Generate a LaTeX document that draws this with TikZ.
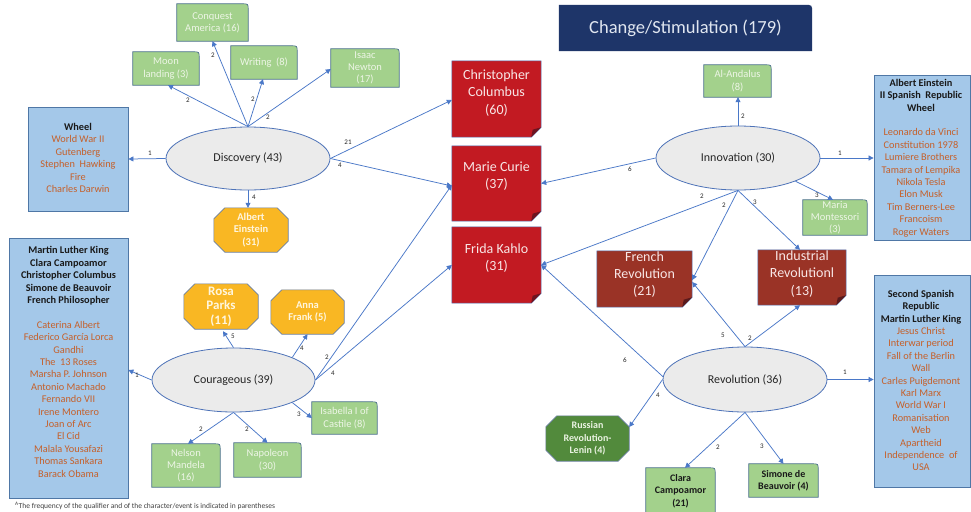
\documentclass[tikz,border=0pt]{standalone}
\usepackage{fontspec}
\setmainfont{Carlito}
\usetikzlibrary{arrows.meta,backgrounds,shapes.geometric}
\pgfdeclarelayer{canvas}
\pgfsetlayers{canvas,background,main}

\definecolor{edgecol}{HTML}{4A78C8}
\definecolor{ellfill}{HTML}{EBEBEB}
\definecolor{ellline}{HTML}{4E73B8}
\definecolor{gfill}{HTML}{A3D18C}
\definecolor{gline}{HTML}{4A6F8A}
\definecolor{gtextcol}{HTML}{EDF5E6}
\definecolor{bfill}{HTML}{A4C8E9}
\definecolor{bline}{HTML}{4F77A6}
\definecolor{orangetext}{HTML}{C5602A}
\definecolor{notered}{HTML}{C21A22}
\definecolor{notefold}{HTML}{6E1420}
\definecolor{notetextcol}{HTML}{F8E6E6}
\definecolor{notebrown}{HTML}{9A3326}
\definecolor{brownfold}{HTML}{5A1A1C}
\definecolor{octorange}{HTML}{F9B723}
\definecolor{octtext}{HTML}{FFF6DE}
\definecolor{octgreen}{HTML}{528A3C}
\definecolor{octgreentext}{HTML}{EAF3E2}
\definecolor{octline}{HTML}{6A7FA0}
\definecolor{titlefill}{HTML}{1E3569}
\definecolor{titletext}{HTML}{E0E6F0}

\tikzset{
  ellnode/.style={ellipse, draw=ellline, fill=ellfill, line width=0.8pt, inner sep=0pt,
    font=\fontsize{12}{14}\selectfont, text=black!85},
  gbox/.style={rectangle, inner sep=0pt, align=center, text=gtextcol,
    font=\fontsize{10.5}{12.3}\selectfont},
  gboxdark/.style={gbox, text=black!90, font=\fontsize{10}{12.4}\selectfont\bfseries},
  gboxline/.style={draw=gline, fill=gfill, line width=0.7pt},
  bluebox/.style={rectangle, draw=bline, fill=bfill, line width=0.8pt, inner sep=0pt},
  listtext/.style={align=center, inner sep=0pt, font=\fontsize{10.3}{12.4}\selectfont, text=orangetext},
  notebox/.style={rectangle, inner sep=0pt},
  notetext/.style={align=center, inner sep=0pt, font=\fontsize{14}{17.2}\selectfont, text=notetextcol},
  octbox/.style={rectangle, inner sep=0pt, align=center, text=octtext,
    font=\fontsize{10.5}{12.5}\selectfont\bfseries},
  edge/.style={draw=edgecol, line width=0.75pt, -{Triangle[length=5pt,width=5pt]}},
  lbl/.style={inner sep=0pt, font=\fontsize{7}{8}\selectfont, text=black!85},
}
\newcommand{\bk}[1]{{\color{black!90}\bfseries #1}}

\begin{document}
\begin{tikzpicture}[x=1pt,y=-1pt]
\begin{pgfonlayer}{canvas}
  \fill[white] (0,0) rectangle (971,511);
\end{pgfonlayer}
\useasboundingbox (0,0) rectangle (971,511);

% ---------- title ----------
\node[rectangle, inner sep=0pt, minimum width=253pt, minimum height=46pt,
  text=titletext, font=\fontsize{18.5}{22}\selectfont] (title) at (685.5,28) {Change/Stimulation (179)};

% ---------- qualifiers ----------
\node[ellnode, minimum width=164pt, minimum height=63pt] (disc) at (248,158.5) {Discovery (43)};
\node[ellnode, minimum width=164pt, minimum height=64pt] (innov) at (738,158) {Innovation (30)};
\node[ellnode, minimum width=163pt, minimum height=64pt] (cour) at (233.5,380) {Courageous (39)};
\node[ellnode, minimum width=164pt, minimum height=65pt] (revo) at (745,379.5) {Revolution (36)};

% ---------- green boxes ----------
\node[gbox, minimum width=66pt, minimum height=33pt] (moon) at (166,68.5) {Moon\\landing (3)};
\node[gbox, minimum width=71pt, minimum height=37pt] (conq) at (212.5,22.5) {Conquest\\America (16)};
\node[gbox, minimum width=66pt, minimum height=33pt] (writ) at (264,62.5) {Writing\ \ (8)};
\node[gbox, minimum width=68pt, minimum height=38pt] (newt) at (365,68) {Isaac\\Newton\\(17)};
\node[gbox, minimum width=67pt, minimum height=32pt] (anda) at (737.5,81) {Al-Andalus\\(8)};
\node[gbox, minimum width=64pt, minimum height=35pt] (mont) at (835,217.5) {Maria\\Montessori\\(3)};
\node[gbox, minimum width=65pt, minimum height=32pt] (isab) at (344.5,418) {Isabella I of\\Castile (8)};
\node[gbox, minimum width=68pt, minimum height=43pt] (nels) at (186,465.5) {Nelson\\Mandela\\(16)};
\node[gbox, minimum width=67pt, minimum height=34pt] (napo) at (267.5,460) {Napoleon\\(30)};
\node[gboxdark, minimum width=69pt, minimum height=46pt] (clara) at (680.5,491) {Clara\\Campoamor\\(21)};
\node[gboxdark, minimum width=69pt, minimum height=33pt] (simo) at (783.5,480.5) {Simone de\\Beauvoir (4)};

% ---------- blue lists ----------
\node[bluebox, minimum width=100pt, minimum height=104pt] (wheel) at (78,159) {};
\node[listtext] (wheeltext) at (78,158) {\bk{Wheel}\\World War II\\Gutenberg\\Stephen\ \ Hawking\\Fire\\Charles Darwin};

\node[bluebox, minimum width=119pt, minimum height=260pt] (lbox) at (68.5,368) {};
\node[listtext] (lboxtext) at (68.5,362) {\bk{Martin Luther King}\\\bk{Clara Campoamor}\\\bk{Christopher Columbus}\\\bk{Simone de Beauvoir}\\\bk{French Philosopher}\\[12.4pt]Caterina Albert\\Federico García Lorca\\Gandhi\\The\ \ 13 Roses\\Marsha P. Johnson\\Antonio Machado\\Fernando VII\\Irene Montero\\Joan of Arc\\El Cid\\Malala Yousafazi\\Thomas Sankara\\Barack Obama};

\node[bluebox, minimum width=96pt, minimum height=165pt] (rbox) at (922,157.5) {};
\node[listtext] (rboxtext) at (921,158) {\bk{Albert Einstein}\\\bk{II Spanish\ \ Republic}\\\bk{Wheel}\\[12.4pt]Leonardo da Vinci\\Constitution 1978\\Lumiere Brothers\\Tamara of Lempika\\Nikola Tesla\\Elon Musk\\Tim Berners-Lee\\Francoism\\Roger Waters};

\node[bluebox, minimum width=96pt, minimum height=212pt] (rboxb) at (922,381) {};
\node[listtext] (rboxbtext) at (921,380.5) {\bk{Second Spanish}\\\bk{Republic}\\\bk{Martin Luther King}\\Jesus Christ\\Interwar period\\Fall of the Berlin\\Wall\\Carles Puigdemont\\Karl Marx\\World War I\\Romanisation\\Web\\Apartheid\\Independence\ \ of\\USA};

% ---------- notes ----------
\node[notebox, minimum width=89pt, minimum height=76pt] (colu) at (496.5,99) {};
\node[notetext] (colutext) at (496.5,93) {Christopher\\Columbus\\(60)};
\node[notebox, minimum width=89pt, minimum height=75pt] (curi) at (496.5,183.5) {};
\node[notetext] (curitext) at (496.5,176) {Marie Curie\\(37)};
\node[notebox, minimum width=89pt, minimum height=76pt] (frid) at (496.5,265) {};
\node[notetext] (fridtext) at (496.5,258) {Frida Kahlo\\(31)};
\node[notebox, minimum width=95pt, minimum height=56pt] (fren) at (644.5,279) {};
\node[notetext] (frentext) at (644.5,274.5) {French\\Revolution\\(21)};
\node[notebox, minimum width=88pt, minimum height=55pt] (indu) at (802,277.5) {};
\node[notetext] (indutext) at (802,274) {Industrial\\Revolutionl\\(13)};

% ---------- octagons ----------
\node[octbox, minimum width=74pt, minimum height=44pt] (eins) at (251,230) {Albert\\Einstein\\(31)};
\node[octbox, minimum width=74pt, minimum height=45pt, font=\fontsize{13}{14.5}\selectfont\bfseries] (rosa) at (221,306.5) {Rosa\\Parks\\(11)};
\node[octbox, minimum width=73pt, minimum height=44pt] (anna) at (307.5,312) {Anna\\Frank (5)};
\node[octbox, minimum width=83pt, minimum height=45pt, text=octgreentext, font=\fontsize{10}{12.5}\selectfont\bfseries] (russ) at (587.5,438.5) {Russian\\Revolution-\\Lenin (4)};

% ---------- outlines behind the texts ----------
\begin{scope}[on background layer]
  \fill[titlefill] (title.south west) -- (title.north west) -- ([xshift=-8pt]title.north east)
    .. controls (title.north east) .. ([yshift=-8pt]title.north east) -- (title.south east) -- cycle;
  \foreach \n in {moon,conq,writ,newt,anda,mont,isab,nels,napo,clara,simo}
    \draw[gboxline] (\n.south west) -- (\n.north west) -- ([xshift=-6pt]\n.north east)
      .. controls (\n.north east) .. ([yshift=-6pt]\n.north east) -- (\n.south east) -- cycle;
  \foreach \n/\c/\f in {colu/notered/notefold,curi/notered/notefold,frid/notered/notefold,
                        fren/notebrown/brownfold,indu/notebrown/brownfold} {
    \draw[fill=\c, draw=ellline, line width=0.5pt] (\n.north west) -- (\n.north east)
      -- ([yshift=10pt]\n.south east) -- ([xshift=-10pt]\n.south east) -- (\n.south west) -- cycle;
    \fill[\f] ([yshift=10pt]\n.south east) -- ([xshift=-10pt]\n.south east)
      -- ([xshift=-8.5pt,yshift=7.5pt]\n.south east) -- cycle;
  }
  \foreach \n/\c in {eins/octorange,rosa/octorange,anna/octorange,russ/octgreen}
    \draw[fill=\c, draw=octline, line width=0.6pt]
      ([xshift=11pt]\n.north west) -- ([xshift=-11pt]\n.north east) -- ([yshift=-11pt]\n.north east)
      -- ([yshift=11pt]\n.south east) -- ([xshift=-11pt]\n.south east) -- ([xshift=11pt]\n.south west)
      -- ([yshift=11pt]\n.south west) -- ([yshift=-11pt]\n.north west) -- cycle;
\end{scope}

% ---------- connectors: Discovery ----------
\draw[edge] (disc.north) -- ([xshift=2pt]moon.south);
\draw[edge] (disc.north) -- (conq.south);
\draw[edge] (disc.north) -- ([xshift=-1pt]writ.south);
\draw[edge] (disc.north) -- ([yshift=-1pt]newt.west);
\draw[edge] (disc.west) -- (wheel.east);
\draw[edge] (disc.south) -- (disc.south |- eins.north);
\draw[edge] (disc.east) -- ([yshift=-1pt]colu.west);
\draw[edge] (disc.east) -- ([yshift=-2.5pt]curi.west);
\node[lbl] (l1) at (188,100) {2};
\node[lbl] (l2) at (213,55) {2};
\node[lbl] (l3) at (253,99) {2};
\node[lbl] (l4) at (268,117) {2};
\node[lbl] (l5) at (150,153) {1};
\node[lbl] (l6) at (254,197) {4};
\node[lbl] (l7) at (348,142) {21};
\node[lbl] (l8) at (340,165) {4};

% ---------- connectors: Innovation ----------
\draw[edge] (innov.north) -- (innov.north |- anda.south);
\draw[edge] (innov.east) -- (innov.east -| rbox.west);
\draw[edge] (innov.-22) -- ([xshift=-2pt]mont.north);
\draw[edge] (innov.west) -- (curi.east);
\draw[edge] (innov.south) -- (frid.east);
\draw[edge] (innov.south) -- ([yshift=-1pt]fren.east);
\draw[edge] (innov.south) -- ([xshift=-2pt]indu.north);
\node[lbl] (l9) at (743,116) {2};
\node[lbl] (l10) at (840,153) {1};
\node[lbl] (l11) at (817,195) {3};
\node[lbl] (l12) at (630,169) {6};
\node[lbl] (l13) at (702,196) {2};
\node[lbl] (l14) at (724,205) {2};
\node[lbl] (l15) at (755,202) {3};

% ---------- connectors: Revolution ----------
\draw[edge] (revo.178) -- (frid.east);
\draw[edge] (revo.north) -- ([yshift=-3pt]fren.east);
\draw[edge] (revo.north) -- ([xshift=-2pt]indu.south);
\draw[edge] (revo.east) -- (revo.east -| rboxb.west);
\draw[edge] (revo.west) -- ([yshift=11.5pt]russ.east);
\draw[edge] (revo.south) -- ([xshift=4.5pt]clara.north);
\draw[edge] (revo.south) -- (simo.north);
\node[lbl] (l16) at (625,360) {6};
\node[lbl] (l17) at (723,335) {5};
\node[lbl] (l18) at (750,338) {2};
\node[lbl] (l19) at (845,372) {1};
\node[lbl] (l20) at (658,395) {4};
\node[lbl] (l21) at (718,447) {2};
\node[lbl] (l22) at (762,446) {3};

% ---------- connectors: Courageous ----------
\draw[edge] (cour.west) -- ([yshift=-2pt]lbox.east);
\draw[edge] (cour.north) -- ([xshift=2pt,yshift=-2pt]rosa.south);
\draw[edge] (cour.21.5) -- (anna.south);
\draw[edge] (cour.east) -- ([yshift=-1.5pt]curi.west);
\draw[edge] (cour.east) -- (frid.west);
\draw[edge] (cour.-21.5) -- (isab.west);
\draw[edge] (cour.south) -- ([xshift=2pt]nels.north);
\draw[edge] (cour.south) -- (napo.north);
\node[lbl] (l23) at (137,375) {1};
\node[lbl] (l24) at (233,336) {5};
\node[lbl] (l25) at (302,348) {4};
\node[lbl] (l26) at (327,357) {2};
\node[lbl] (l27) at (333,373) {4};
\node[lbl] (l28) at (299,414) {3};
\node[lbl] (l29) at (201,429) {2};
\node[lbl] (l30) at (247,429) {2};

% ---------- footnote ----------
\node[anchor=base west, inner sep=0pt, font=\fontsize{7.5}{9}\selectfont, text=black!75] (note) at (15,508.5)
  {\textsuperscript{A}The frequency of the qualifier and of the character/event is indicated in parentheses};
\end{tikzpicture}
\end{document}
